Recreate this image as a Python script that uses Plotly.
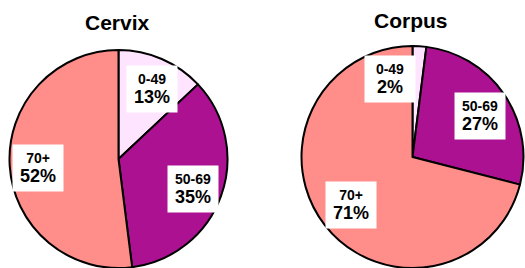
import plotly.graph_objects as go

age_groups = ["0-49", "50-69", "70+"]
cervix_pct = [13, 35, 52]
corpus_pct = [2, 27, 71]
titles = ["Cervix", "Corpus"]
colors = ["#FFE4FF", "#AB1190", "#FF8E8A"]

W, H = 525, 268

def px(x, y):
    return x / W, 1 - y / H

fig = go.Figure()
fig.add_trace(go.Pie(labels=age_groups, values=cervix_pct, sort=False, direction="clockwise",
                     rotation=0, textinfo="none", hoverinfo="label+percent",
                     marker=dict(colors=colors, line=dict(color="black", width=2)),
                     domain=dict(x=[9.5 / W, 227.5 / W], y=[0, 218 / H]), showlegend=False))
fig.add_trace(go.Pie(labels=age_groups, values=corpus_pct, sort=False, direction="clockwise",
                     rotation=0, textinfo="none", hoverinfo="label+percent",
                     marker=dict(colors=colors, line=dict(color="black", width=2)),
                     domain=dict(x=[301.5 / W, 523.5 / W], y=[0, 222 / H]), showlegend=False))

label_pos = {
    "Cervix": [(152, 89), (193, 189), (38, 168)],
    "Corpus": [(390, 79), (480, 116), (351, 205)],
}
title_pos = {"Cervix": (117, 23), "Corpus": (411, 20)}

annotations = []
for name, vals in (("Cervix", cervix_pct), ("Corpus", corpus_pct)):
    tx, ty = px(*title_pos[name])
    annotations.append(dict(x=tx, y=ty, xref="paper", yref="paper", text="<b>%s</b>" % name,
                            showarrow=False, font=dict(size=21, color="black"),
                            xanchor="center", yanchor="middle"))
    for lab, v, (lx, ly) in zip(age_groups, vals, label_pos[name]):
        ax, ay = px(lx, ly)
        annotations.append(dict(
            x=ax, y=ay, xref="paper", yref="paper", showarrow=False,
            text="<b>%s</b><br><b><span style='font-size:18px'>%d%%</span></b>" % (lab, v),
            font=dict(size=14, color="black"), bgcolor="white", borderpad=2,
            width=46, height=42, align="center", valign="middle",
            xanchor="center", yanchor="middle"))

fig.update_layout(width=W, height=H, margin=dict(l=0, r=0, t=0, b=0),
                  paper_bgcolor="white", plot_bgcolor="white",
                  font=dict(family="Liberation Sans, Arial, sans-serif"),
                  annotations=annotations)
fig.write_html("out.html", config={"displayModeBar": False},
               post_script="document.body.style.margin='0';document.body.style.overflow='hidden';")
